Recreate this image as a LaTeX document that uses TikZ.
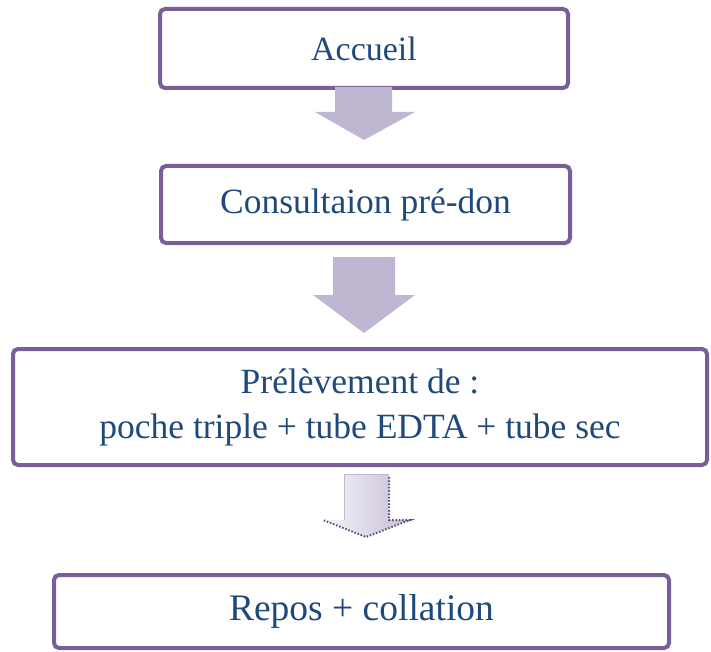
\documentclass[tikz,border=0pt]{standalone}
\usepackage{fontspec}
\setmainfont{Liberation Serif}
\usetikzlibrary{calc}
\definecolor{boxline}{RGB}{122,94,153}
\definecolor{txtblue}{RGB}{31,73,125}
\definecolor{arrowfill}{RGB}{191,182,210}
\definecolor{dotpurple}{RGB}{95,73,122}
\tikzset{
  stepbox/.style={draw=boxline, line width=4pt, rounded corners=5pt, fill=white,
    text=txtblue, align=center, inner sep=0pt},
  blockarrow/.style={fill=arrowfill, draw=none},
}
\begin{document}
\begin{tikzpicture}[x=1pt,y=-1pt]
\useasboundingbox (0,0) rectangle (711,652);
\node[stepbox, minimum width=408pt, minimum height=79pt,
  font=\fontsize{34}{40}\selectfont] (accueil) at (364,48.5) {Accueil};
\node[stepbox, minimum width=409pt, minimum height=77pt,
  font=\fontsize{35.5}{40}\selectfont] (consult) at (365.5,204.5) {Consultaion pré-don};
\node[stepbox, minimum width=694pt, minimum height=116pt,
  font=\fontsize{35.5}{45}\selectfont] (prelev) at (360,407) {Prélèvement de :\\poche triple + tube EDTA + tube sec};
\node[stepbox, minimum width=615pt, minimum height=73pt,
  font=\fontsize{37.5}{44}\selectfont] (repos) at (361.5,611.5) {Repos + collation};
% block arrows
\fill[blockarrow] (335,87) -- (392,87) -- (392,112) -- (415,112) -- (364,140)
  -- (315,112) -- (335,112) -- cycle;
\fill[blockarrow] (333,257) -- (395,257) -- (395,295) -- (415,295) -- (364,333)
  -- (313,295) -- (333,295) -- cycle;
\shade[left color=white!85!arrowfill, right color=arrowfill!90!white]
  (344,474) -- (389,474) -- (389,520) -- (410,520) -- (366,537)
  -- (323,520) -- (344,520) -- cycle;
\draw[draw=arrowfill, line width=1pt] (344,520) -- (344,474) -- (389,474);
\draw[dotpurple, line width=2pt, dash pattern=on 1.5pt off 1.8pt] (389,477) -- (389,520) -- (410,520) -- (366,537) -- (323,520);
\end{tikzpicture}
\end{document}
